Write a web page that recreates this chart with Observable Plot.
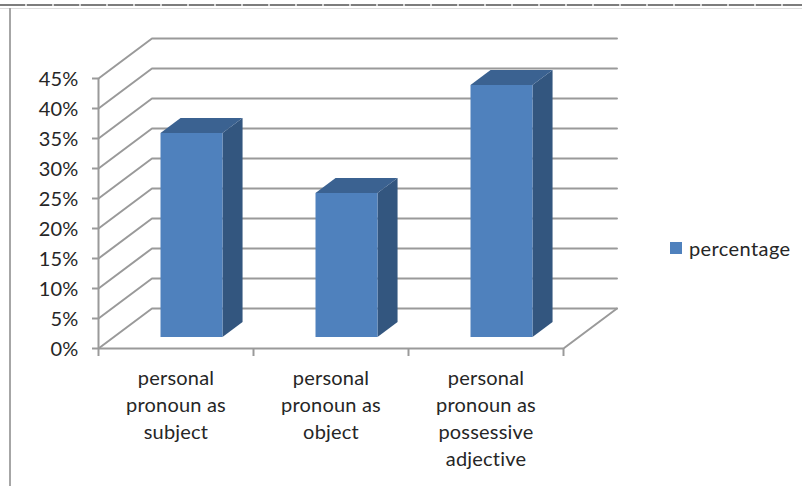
<!DOCTYPE html>
<html>
<head>
<meta charset="utf-8">
<script src="https://cdn.jsdelivr.net/npm/d3@7"></script>
<script src="https://cdn.jsdelivr.net/npm/@observablehq/plot@0.6"></script>
<style>
html,body{margin:0;padding:0;background:#fff;}
#page{position:relative;width:802px;height:486px;overflow:hidden;font-family:Lato,sans-serif;}
#page svg{position:absolute;left:0;top:0;background:transparent;}
#topDash{position:absolute;left:0;right:0;top:4px;height:2px;background:repeating-linear-gradient(90deg,#7d7d7d 0 25px,#d8d8d8 25px 27px);}
#topLine{position:absolute;left:0;right:0;top:8px;height:1px;background:#dcdcdc;}
#leftLine{position:absolute;left:9px;top:8px;bottom:0;border-left:2px solid #a6a6a6;}
#legend{position:absolute;left:670px;top:236px;display:flex;align-items:center;gap:7px;font-size:20px;color:#262626;letter-spacing:.4px;}
#legend i{display:block;width:12px;height:12px;background:#4f81bd;}
</style>
</head>
<body>
<div id="page">
<div id="topDash"></div><div id="topLine"></div><div id="leftLine"></div>
<div id="legend"><i></i><span id="legendText"></span></div>
</div>
<script>
const categories = ["personal\npronoun as\nsubject", "personal\npronoun as\nobject", "personal\npronoun as\npossessive\nadjective"];
const values = [34, 24, 42];
const seriesName = "percentage";
const yTicks = [0, 5, 10, 15, 20, 25, 30, 35, 40, 45];
const xTicks = [0, 1, 2, 3];

// oblique projection in data units: depth 1 = the whole floor depth
const depthX = 0.345, depthY = 6.67;
const px = (x, d) => x + d * depthX;
const py = (y, d) => y + d * depthY;
const barWidth = 0.4, barCentre = 0.5, d0 = 0.29, d1 = 0.665;

const gridColor = "#9a9a9a";
const grid = [];
yTicks.forEach(t => {
  grid.push({id: t, x: px(0, 0), y: py(t, 0)});
  grid.push({id: t, x: px(0, 1), y: py(t, 1)});
  grid.push({id: t, x: px(3, 1), y: py(t, 1)});
});
const floorEdge = [{x: 3, y: 0}, {x: px(3, 1), y: py(0, 1)}];

const front = [], side = [], top_ = [];
values.forEach((v, i) => {
  const l = i + barCentre - barWidth / 2, r = i + barCentre + barWidth / 2;
  const poly = (arr, pts) => pts.forEach(([x, y, d]) => arr.push({id: i, x: px(x, d), y: py(y, d)}));
  poly(front, [[l,0,d0],[r,0,d0],[r,v,d0],[l,v,d0]]);
  poly(side, [[r,0,d0],[r,0,d1],[r,v,d1],[r,v,d0]]);
  poly(top_, [[l,v,d0],[r,v,d0],[r,v,d1],[l,v,d1]]);
});

const chart = Plot.plot({
  width: 802, height: 486,
  marginLeft: 98, marginRight: 239, marginTop: 78, marginBottom: 138,
  style: {fontFamily: "Lato, sans-serif", background: "transparent", letterSpacing: "0.2px"},
  x: {type: "linear", domain: [0, 3], axis: null},
  y: {type: "linear", domain: [0, 45], axis: null},
  marks: [
    Plot.line(grid, {x: "x", y: "y", z: "id", stroke: gridColor, strokeWidth: 2}),
    Plot.line(floorEdge, {x: "x", y: "y", stroke: gridColor, strokeWidth: 2}),
    Plot.ruleX([0], {y1: 0, y2: 45, stroke: gridColor, strokeWidth: 2}),
    Plot.ruleY([0], {x1: 0, x2: 3, stroke: gridColor, strokeWidth: 2}),
    Plot.axisY(yTicks, {anchor: "left", tickSize: 6, tickFormat: () => "", stroke: gridColor, strokeWidth: 2, label: null}),
    Plot.axisX(xTicks, {anchor: "bottom", tickSize: 8, tickFormat: () => "", stroke: gridColor, strokeWidth: 2, label: null}),
    Plot.text(yTicks, {x: 0, y: d => d, text: d => d + "%", dx: -20, dy: 1.5, textAnchor: "end", fontSize: 20, fill: "#262626"}),
    Plot.line(side, {x: "x", y: "y", z: "id", fill: "#33567f", stroke: "none", curve: "linear-closed"}),
    Plot.line(top_, {x: "x", y: "y", z: "id", fill: "#3b6291", stroke: "none", curve: "linear-closed"}),
    Plot.line(front, {x: "x", y: "y", z: "id", fill: "#4f81bd", stroke: "none", curve: "linear-closed"}),
    Plot.text(categories, {x: (d, i) => i + 0.5, y: 0, text: d => d, dy: 17, lineAnchor: "top", lineHeight: 1.35, fontSize: 20, fill: "#262626"})
  ]
});
document.getElementById("page").appendChild(chart);
document.getElementById("legendText").textContent = seriesName;
</script>
</body>
</html>
